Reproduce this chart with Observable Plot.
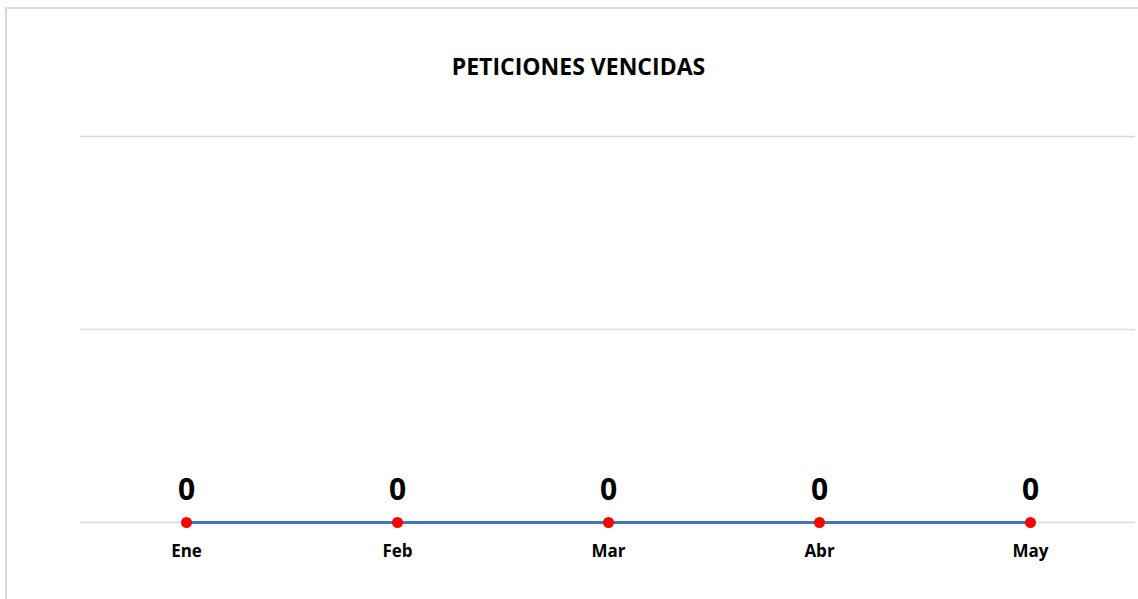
<!DOCTYPE html>
<html>
<head>
<meta charset="utf-8">
<script src="https://cdn.jsdelivr.net/npm/d3@7"></script>
<script src="https://cdn.jsdelivr.net/npm/@observablehq/plot@0.6"></script>
<style>
  html, body { margin: 0; padding: 0; background: #fff; overflow: hidden; }
  #wrap { position: relative; width: 1138px; height: 599px; }
  #frame { position: absolute; left: 5px; top: 7px; width: 1200px; height: 700px;
           border-left: 2px solid #d9d9d9; border-top: 2px solid #d9d9d9; }
  #title { position: absolute; left: 0; top: 50px; width: 1157px; text-align: center;
           font-family: "Open Sans", sans-serif; font-weight: bold; font-size: 23px; color: #000; }
  #chart { position: absolute; left: 0; top: 0; }
</style>
</head>
<body>
<div id="wrap">
  <div id="frame"></div>
  <div id="chart"></div>
  <div id="title">PETICIONES VENCIDAS</div>
</div>
<script>
const months = ["Ene", "Feb", "Mar", "Abr", "May"];
const values = [0, 0, 0, 0, 0];
const gridTicks = [0, 1, 2];

const data = months.map((m, i) => ({month: m, value: values[i]}));

const chart = Plot.plot({
  width: 1138,
  height: 599,
  marginLeft: 80,
  marginRight: 3,
  marginTop: 136,
  marginBottom: 77,
  style: {background: "transparent", fontFamily: "Open Sans, sans-serif"},
  x: {type: "point", domain: months, padding: 0.5, label: null, axis: null},
  y: {domain: [0, 2], label: null, axis: null},
  marks: [
    Plot.ruleY(gridTicks, {stroke: "#d9d9d9", strokeWidth: 1.5}),
    Plot.line(data, {x: "month", y: "value", stroke: "#4472c4", strokeWidth: 3}),
    Plot.dot(data, {x: "month", y: "value", fill: "#ff0000", r: 5.5, stroke: "none"}),
    Plot.text(data, {x: "month", y: "value", text: d => String(d.value), dy: -32,
      fontSize: 30, fontWeight: "bold", fill: "#000"}),
    Plot.axisX({tickSize: 0, tickPadding: 22, fontSize: 17, fontWeight: "bold", fill: "#000", label: null}),
  ]
});
document.getElementById("chart").appendChild(chart);
</script>
</body>
</html>
